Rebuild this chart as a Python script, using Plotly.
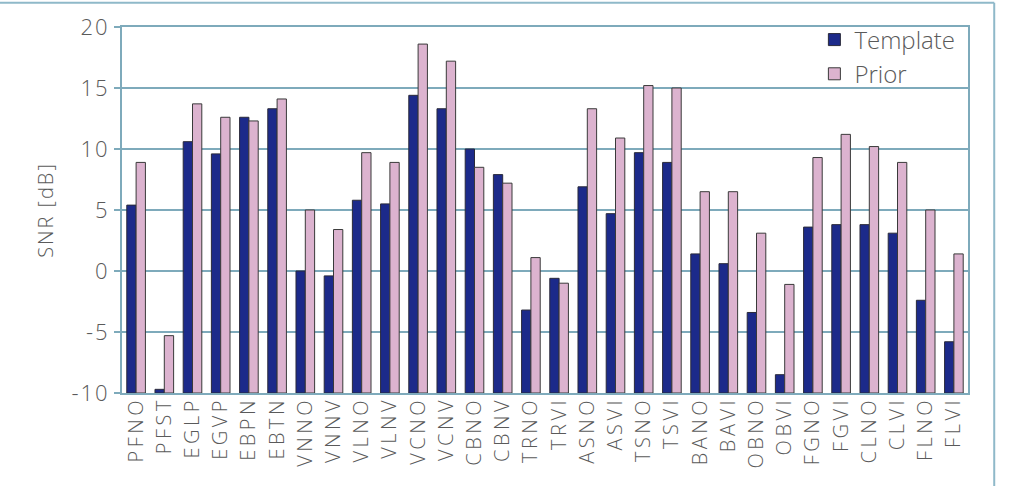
import plotly.graph_objects as go

categories = ["PFNO", "PFST", "EGLP", "EGVP", "EBPN", "EBTN", "VNNO", "VNNV",
              "VLNO", "VLNV", "VCNO", "VCNV", "CBNO", "CBNV", "TRNO", "TRVI",
              "ASNO", "ASVI", "TSNO", "TSVI", "BANO", "BAVI", "OBNO", "OBVI",
              "FGNO", "FGVI", "CLNO", "CLVI", "FLNO", "FLVI"]
template = [5.4, -9.7, 10.6, 9.6, 12.6, 13.3, 0.0, -0.4,
            5.8, 5.5, 14.4, 13.3, 10.0, 7.9, -3.2, -0.6,
            6.9, 4.7, 9.7, 8.9, 1.4, 0.6, -3.4, -8.5,
            3.6, 3.8, 3.8, 3.1, -2.4, -5.8]
prior = [8.9, -5.3, 13.7, 12.6, 12.3, 14.1, 5.0, 3.4,
         9.7, 8.9, 18.6, 17.2, 8.5, 7.2, 1.1, -1.0,
         13.3, 10.9, 15.2, 15.0, 6.5, 6.5, 3.1, -1.1,
         9.3, 11.2, 10.2, 8.9, 5.0, 1.4]
y_ticks = [-10, -5, 0, 5, 10, 15, 20]
BASE = -10

GRID = "#7eaabb"
TEXT = "#5a5a5a"
FONT = "Open Sans"

fig = go.Figure()
fig.add_trace(go.Bar(
    name="Template", x=categories, y=[v - BASE for v in template], base=BASE,
    marker=dict(color="#1c2a8a", line=dict(color="#2a2a3a", width=1)),
    customdata=template, hovertemplate="%{x}: %{customdata} dB<extra>Template</extra>"))
fig.add_trace(go.Bar(
    name="Prior", x=categories, y=[v - BASE for v in prior], base=BASE,
    marker=dict(color="#dcb3cf", line=dict(color="#3a3a3a", width=1)),
    customdata=prior, hovertemplate="%{x}: %{customdata} dB<extra>Prior</extra>"))

fig.update_layout(
    width=1010, height=486,
    margin=dict(l=122, r=42, t=27, b=93, autoexpand=False),
    paper_bgcolor="white", plot_bgcolor="white",
    barmode="group", bargap=0.34, bargroupgap=0,
    font=dict(family=FONT, color=TEXT, weight=300),
    showlegend=True,
    legend=dict(x=0.991, y=1.026, xanchor="right", yanchor="top",
                font=dict(size=24, color=TEXT, family=FONT, weight=300),
                bgcolor="rgba(0,0,0,0)", itemwidth=30, tracegroupgap=0,
                traceorder="normal"),
    xaxis=dict(showline=True, linecolor=GRID, linewidth=2, mirror=True,
               showgrid=False, tickangle=-90, ticks="",
               tickfont=dict(size=20, color=TEXT, family=FONT, weight=300),
               ticklabelstandoff=-6,
               range=[-0.5, len(categories) - 0.5], automargin=False),
    yaxis=dict(range=[-10, 20], tickvals=y_ticks, ticktext=[str(t) for t in y_ticks],
               showline=True, linecolor=GRID, linewidth=2, mirror=True,
               showgrid=True, gridcolor=GRID, gridwidth=2,
               ticks="outside", ticklen=6, tickcolor=GRID, tickwidth=2,
               tickfont=dict(size=22, color=TEXT, family=FONT, weight=300),
               zeroline=False, automargin=False,
               title=dict(text="SNR [dB]", font=dict(size=20, color=TEXT, family=FONT, weight=300),
                          standoff=18)),
    shapes=[
        dict(type="line", xref="paper", yref="paper", x0=-0.145, x1=1.031, y0=1.066, y1=1.066,
             line=dict(color="#8fb9c9", width=2)),
        dict(type="line", xref="paper", yref="paper", x0=1.031, x1=1.031, y0=1.066, y1=-0.26,
             line=dict(color="#8fb9c9", width=2)),
    ],
)

post = """
var gd = document.getElementById('{plot_id}');
function spacing(){
  gd.querySelectorAll('.xtick text').forEach(function(t){t.style.letterSpacing='3.5px';});
  gd.querySelectorAll('.ytick text').forEach(function(t){t.style.letterSpacing='2px';});
  gd.querySelectorAll('.ytitle').forEach(function(t){t.style.letterSpacing='2px';});
}
spacing();
gd.on('plotly_afterplot', spacing);
"""

fig.write_html("out.html", post_script=post)
